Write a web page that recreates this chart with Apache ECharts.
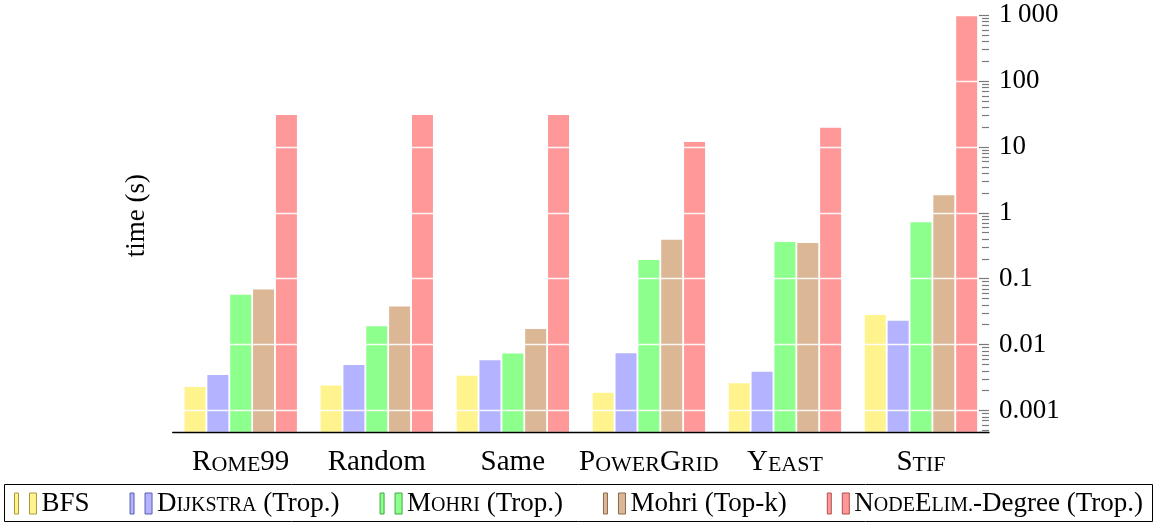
<!DOCTYPE html>
<html>
<head>
<meta charset="utf-8">
<script src="https://cdn.jsdelivr.net/npm/echarts@6/dist/echarts.min.js"></script>
<style>html,body{margin:0;padding:0;background:#fff;}#c{width:1156px;height:526px;}</style>
</head>
<body>
<div id="c"></div>
<script>
// ---- data ----
const categories = ['Rome99', 'Random', 'Same', 'PowerGrid', 'Yeast', 'Stif'];
// [x] marks small-caps segments
const categoryLabels = ['R[ome]99', 'Random', 'Same', 'P[ower]G[rid]', 'Y[east]', 'S[tif]'];
const seriesNames = ['BFS', 'Dijkstra (Trop.)', 'Mohri (Trop.)', 'Mohri (Top-k)', 'NodeElim.-Degree (Trop.)'];
const legendLabels = ['BFS', 'D[ijkstra] (Trop.)', 'M[ohri] (Trop.)', 'Mohri (Top-k)', 'N[ode]E[lim.]-Degree (Trop.)'];
const bfs       = [0.00227, 0.00238, 0.00337, 0.00185, 0.00259, 0.0282];
const dijkstra  = [0.00346, 0.0049, 0.00577, 0.00738, 0.00385, 0.0229];
const mohriTrop = [0.0571, 0.019, 0.0073, 0.192, 0.36, 0.723];
const mohriTopk = [0.0687, 0.0379, 0.0173, 0.389, 0.347, 1.85];
const nodeElim  = [30.5, 30.5, 30.5, 11.9, 19.6, 985];
const yTickValues = [0.001, 0.01, 0.1, 1, 10, 100, 1000];
const yTickLabels = ['0.001', '0.01', '0.1', '1', '10', '100', '1\u2009000'];
const minorDecades = [0.0001, 0.001, 0.01, 0.1, 1, 10, 100];
const minorMultipliers = [2, 3, 4, 5, 6, 7, 8, 9];
const yMin = 0.00047, yMax = 1000;

// ---- styling ----
const FONT = 'Liberation Serif';
const colors = ['#fff38e', '#b3b3ff', '#8cff8c', '#dbb795', '#ff9999'];
const legendBorders = ['#a89b3c', '#5c5cb0', '#3ea83e', '#8a6a4c', '#b04f4f'];

function toRich(markup) {
  const parts = markup.split(/(\[[^\]]*\])/);
  return parts.filter(p => p.length).map(p => {
    if (p[0] === '[') return '{sc|' + p.slice(1, -1).toUpperCase() + '}';
    return '{n|' + p + '}';
  }).join('');
}
function richStyles(size) {
  const s = Math.round(size * 0.75);
  return {
    n: { fontFamily: FONT, fontSize: size, lineHeight: size, color: '#000', verticalAlign: 'bottom' },
    sc: { fontFamily: FONT, fontSize: s, lineHeight: s, color: '#000', verticalAlign: 'bottom', padding: [0, 0, 1, 0] }
  };
}
const minorValues = [];
minorDecades.forEach(d => minorMultipliers.forEach(m => {
  const v = d * m;
  if (v > yMin && v < yMax) minorValues.push(v);
}));

const seriesData = [bfs, dijkstra, mohriTrop, mohriTopk, nodeElim];

const chart = echarts.init(document.getElementById('c'), null, { renderer: 'canvas' });
chart.setOption({
  animation: false,
  backgroundColor: '#fff',
  grid: { left: 172.7, right: 167, top: 15.3, bottom: 94, containLabel: false },
  xAxis: {
    type: 'category',
    data: categories,
    z: 5,
    axisLine: { lineStyle: { color: '#000', width: 1.3 } },
    axisTick: { alignWithLabel: true, length: 9, lineStyle: { color: '#7a7a7a', width: 1.2 } },
    axisLabel: {
      interval: 0,
      margin: 16,
      formatter: v => toRich(categoryLabels[categories.indexOf(v)]),
      rich: richStyles(29)
    },
    splitLine: { show: false }
  },
  yAxis: [
    {
      type: 'log',
      logBase: 10,
      min: yMin,
      max: yMax,
      startValue: yMin,
      position: 'right',
      z: 3,
      axisLine: { show: false },
      axisTick: { show: true, inside: true, length: 10, lineStyle: { color: '#7a7a7a', width: 1.2 } },
      axisLabel: {
        margin: 10,
        fontFamily: FONT,
        fontSize: 27,
        color: '#000',
        formatter: v => {
          const i = yTickValues.findIndex(t => Math.abs(Math.log10(v) - Math.log10(t)) < 1e-6);
          return i >= 0 ? yTickLabels[i] : '';
        }
      },
      splitLine: { show: true, lineStyle: { color: 'rgba(255,255,255,0.9)', width: 1.3 } }
    },
    {
      type: 'log',
      logBase: 10,
      min: yMin,
      max: yMax,
      position: 'right',
      z: 3,
      axisLine: { show: false },
      axisTick: { show: true, inside: true, length: 7, customValues: minorValues, lineStyle: { color: '#7a7a7a', width: 1.2 } },
      axisLabel: { show: false },
      splitLine: { show: false }
    },
    {
      type: 'value',
      position: 'left',
      name: 'time (s)',
      nameLocation: 'middle',
      nameGap: 22,
      nameTextStyle: { fontFamily: FONT, fontSize: 27, color: '#000', padding: [0, 0, 0, 16] },
      axisLine: { show: false },
      axisTick: { show: false },
      axisLabel: { show: false },
      splitLine: { show: false }
    }
  ],
  legend: {
    left: 14,
    top: 490,
    padding: 0,
    itemWidth: 22,
    itemHeight: 21,
    itemGap: 40,
    icon: 'path://M0,0H4V21H0Z M15,0H22V21H15Z',
    data: seriesNames.map((n, i) => ({ name: n, itemStyle: { borderColor: legendBorders[i], borderWidth: 1 } })),
    formatter: name => toRich(legendLabels[seriesNames.indexOf(name)]),
    textStyle: { rich: richStyles(27) }
  },
  graphic: [{
    type: 'rect',
    shape: { x: 4.5, y: 484.5, width: 1148, height: 37 },
    style: { fill: 'none', stroke: '#000', lineWidth: 1 },
    silent: true
  }],
  series: seriesNames.map((n, i) => ({
    name: n,
    type: 'bar',
    yAxisIndex: 0,
    data: seriesData[i],
    barWidth: 21,
    barGap: '8.8%',
    z: 2,
    itemStyle: { color: colors[i] }
  }))
});
</script>
</body>
</html>
